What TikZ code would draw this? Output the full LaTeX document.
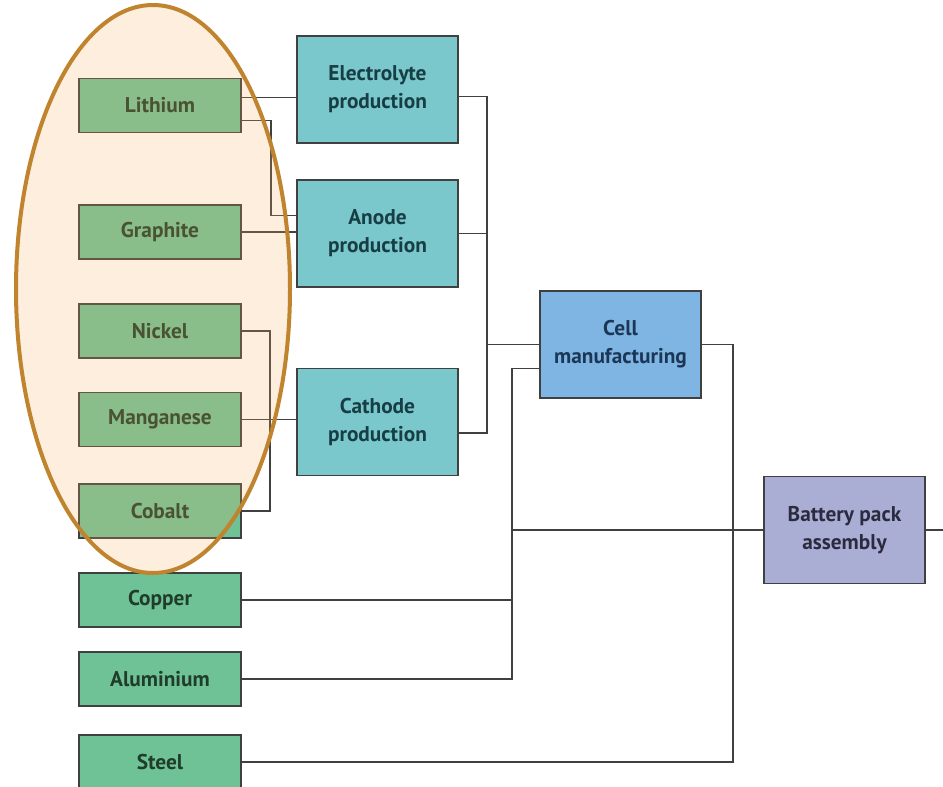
\documentclass[tikz,border=0pt]{standalone}
\usepackage{fontspec}
\setmainfont{PT Sans}
\usetikzlibrary{calc}
\definecolor{metal}{HTML}{6FC296}
\definecolor{metaltext}{HTML}{1F3D2A}
\definecolor{proc}{HTML}{7AC8CC}
\definecolor{proctext}{HTML}{173D45}
\definecolor{cellblue}{HTML}{7EB5E3}
\definecolor{celltext}{HTML}{1C3656}
\definecolor{pack}{HTML}{AAAED4}
\definecolor{packtext}{HTML}{2B2B40}
\definecolor{ring}{HTML}{C0832E}
\definecolor{peach}{HTML}{F5AA55}
\begin{document}
\begin{tikzpicture}[x=0.75pt,y=-0.75pt,
  box/.style={draw=black!75,line width=1.1pt,inner sep=0pt,align=center,
    font=\bfseries\fontsize{16}{21}\selectfont},
  mat/.style={box,fill=metal,text=metaltext,minimum width=121.5pt,minimum height=40.5pt},
  stage/.style={box,fill=proc,text=proctext,minimum width=120.75pt,minimum height=80pt},
  link/.style={draw=black!75,line width=1.1pt}]
\clip (0,0) rectangle (943,786);
\fill[white] (0,0) rectangle (943,786);
\node[mat] (lith) at (160,105.5) {Lithium};
\node[mat] (graph) at (160,232) {Graphite};
\node[mat] (nick) at (160,331) {Nickel};
\node[mat] (mang) at (160,419.5) {Manganese};
\node[mat] (cob) at (160,511) {Cobalt};
\node[mat] (copp) at (160,600) {Copper};
\node[mat] (alu) at (160,679) {Aluminium};
\node[mat] (steel) at (160,762) {Steel};
\node[stage] (elec) at (377.5,89.5) {Electrolyte\\production};
\node[stage] (anode) at (377.5,233.5) {Anode\\production};
\node[stage] (cath) at (377.5,422) {Cathode\\production};
\node[stage,fill=cellblue,text=celltext] (cell) at (620.5,344.5) {Cell\\manufacturing};
\node[stage,fill=pack,text=packtext] (batt) at (844.5,530) {Battery pack\\assembly};
\coordinate (busA) at (271,0);
\coordinate (busB) at (270,0);
\coordinate (busP) at (487,0);
\coordinate (busC) at (512,0);
\coordinate (busS) at (733,0);
\coordinate (out) at (943,530);
\path ($(lith.east)+(0,-8)$) coordinate (li1) ($(lith.east)+(0,15)$) coordinate (li2)
  ($(anode.west)+(0,-18)$) coordinate (an1) ($(elec.east)+(0,7)$) coordinate (el1)
  ($(cath.east)+(0,11)$) coordinate (ca1) ($(cell.west)+(0,24)$) coordinate (ce1);
\draw[link] (li1) -- (li1 -| elec.west);
\draw[link] (li2) -- (li2 -| busA) |- (an1);
\draw[link] (graph.east) -- (graph.east -| anode.west);
\draw[link] (nick.east) -- (nick.east -| busB) |- (cob.east);
\draw[link] (mang.east) -- (mang.east -| cath.west);
\draw[link] (el1) -- (el1 -| busP) |- (ca1);
\draw[link] (anode.east) -- (anode.east -| busP);
\draw[link] (cell.west -| busP) -- (cell.west);
\draw[link] (ce1) -- (ce1 -| busC) |- (alu.east);
\draw[link] (copp.east) -- (copp.east -| busC);
\draw[link] (batt.west -| busC) -- (batt.west);
\draw[link] (cell.east) -- (cell.east -| busS) |- (steel.east);
\draw[link] (batt.east) -- (out);
\fill[opacity=0.2,peach] (153,289) ellipse [x radius=137, y radius=284];
\draw[ring,line width=3pt] (153,289) ellipse [x radius=137, y radius=284];
\end{tikzpicture}
\end{document}
